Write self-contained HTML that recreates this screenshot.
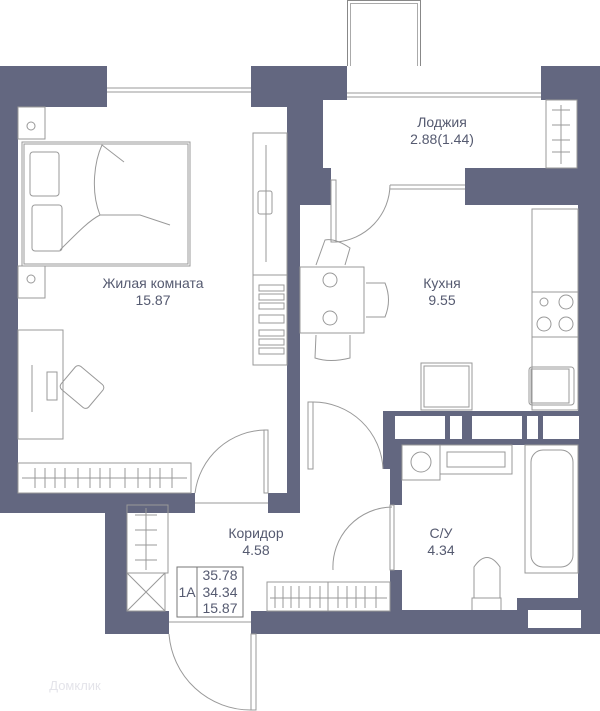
<!DOCTYPE html>
<html><head><meta charset="utf-8"><style>
html,body{margin:0;padding:0;background:#fff;}
svg{display:block;}
text{font-family:"Liberation Sans",sans-serif;font-size:14px;fill:#555a70;text-anchor:middle;}
</style></head><body>
<svg width="600" height="711" viewBox="0 0 600 711" xmlns="http://www.w3.org/2000/svg">
<polygon points="0,66 600,66 600,634 105,634 105,513 0,513" fill="#636780"/>
<rect x="347.5" y="0.5" width="73" height="66" fill="#fff" stroke="#888" stroke-width="1"/>
<rect x="350.5" y="3.5" width="67" height="63" fill="none" stroke="#aaa" stroke-width="1"/>
<rect x="107" y="66" width="144" height="41" fill="#fff"/>
<line x1="107" y1="88" x2="251" y2="88" stroke="#999"/><line x1="107" y1="92" x2="251" y2="92" stroke="#999"/>
<rect x="347" y="66" width="194" height="34" fill="#fff"/>
<line x1="347" y1="93" x2="541" y2="93" stroke="#999"/><line x1="347" y1="97" x2="541" y2="97" stroke="#999"/>
<rect x="390" y="168" width="75" height="37" fill="#fff"/>
<line x1="390" y1="185" x2="465" y2="185" stroke="#999"/><line x1="390" y1="189" x2="465" y2="189" stroke="#999"/>
<rect x="331" y="168" width="59" height="37" fill="#fff"/>
<rect x="18" y="107" width="269" height="386" fill="#fff"/>
<rect x="323" y="100" width="254" height="68" fill="#fff"/>
<rect x="300" y="205" width="278" height="206" fill="#fff"/>
<polygon points="300,411 383,411 383,469 390,469 390,611 127,611 127,513 300,513" fill="#fff"/>
<rect x="300" y="405" width="83" height="64" fill="#fff"/>
<rect x="195" y="493" width="73" height="20" fill="#fff"/>
<rect x="390" y="505" width="12" height="65" fill="#fff"/>
<polygon points="402,445 578,445 578,598 517,598 517,610 402,610" fill="#fff"/>
<rect x="169" y="611" width="82" height="23" fill="#fff"/>
<rect x="528" y="610" width="53" height="18" fill="#fff"/>
<g fill="#fff"><rect x="395" y="416" width="50" height="23"/><rect x="450" y="416" width="12" height="23"/><rect x="472" y="416" width="50" height="23"/><rect x="527" y="416" width="11" height="23"/><rect x="543" y="416" width="36" height="23"/></g>
<g fill="none" stroke="#999" stroke-width="1">
<rect x="22" y="142" width="168" height="124"/><rect x="24" y="144" width="164" height="120"/>
<rect x="30" y="152" width="29" height="44" rx="3"/><rect x="32" y="205" width="30" height="46" rx="3"/>
<path d="M60 250 C80 230 90 220 100 215 L140 215 L170 225 M100 215 C90 190 95 160 102 145 L124 162"/>
<rect x="18" y="107" width="27" height="32"/><rect x="18" y="266" width="27" height="32"/>
<circle cx="31" cy="126" r="4"/><circle cx="31" cy="279" r="4"/>
<rect x="253" y="133" width="34" height="142"/><line x1="266" y1="145" x2="266" y2="262"/>
<rect x="258" y="191" width="14" height="23" rx="2"/>
<rect x="253" y="275" width="34" height="90"/>
<g><rect x="259" y="285" width="25" height="6"/><rect x="259" y="294" width="25" height="6"/><rect x="259" y="303" width="25" height="6"/><rect x="259" y="315" width="25" height="8"/><rect x="259" y="330" width="25" height="6"/><rect x="259" y="339" width="25" height="6"/><rect x="259" y="348" width="25" height="6"/></g>
<rect x="18" y="330" width="45" height="109"/>
<line x1="32" y1="365" x2="32" y2="412"/><rect x="47" y="372" width="10" height="28"/>
<rect x="64" y="372" width="36" height="30" rx="4" transform="rotate(40 82 387)"/>
<rect x="18" y="463" width="173" height="30"/><line x1="22" y1="478" x2="187" y2="478"/>
<path d="M35 468v20M45 468v20M55 468v20M65 468v20M78 468v20M90 468v20M100 468v20M110 468v20M125 468v20M138 468v20M150 468v20M160 468v20M172 468v20"/>
<rect x="546" y="100" width="31" height="68"/><line x1="561" y1="105" x2="561" y2="164"/>
<path d="M552 110h18M552 125h18M552 140h18M552 152h18"/>
<rect x="300" y="267" width="64" height="66"/>
<circle cx="330" cy="280" r="7"/><circle cx="330" cy="318" r="7"/>
<path d="M366 283 L385 283 Q392 300 385 317 L366 317"/>
<path d="M316 265 L325 240 Q335 238 350 248 L345 265"/>
<path d="M316 335 L315 358 Q330 363 350 358 L350 335"/>
<rect x="532" y="209" width="46" height="201"/><line x1="532" y1="292" x2="578" y2="292"/><line x1="532" y1="337" x2="578" y2="337"/>
<circle cx="544" cy="302" r="4"/><circle cx="566" cy="302" r="7"/><circle cx="544" cy="324" r="7"/><circle cx="566" cy="324" r="7"/>
<rect x="421" y="363" width="51" height="47"/><rect x="424" y="366" width="45" height="41"/>
<rect x="529" y="367" width="45" height="38" rx="3"/><rect x="531" y="369" width="38" height="34"/>
<rect x="402" y="445" width="38" height="35"/><circle cx="421" cy="462" r="10"/>
<rect x="440" y="445" width="72" height="29"/><rect x="447" y="452" width="58" height="15"/>
<rect x="525" y="445" width="53" height="128"/><rect x="531" y="450" width="42" height="117" rx="12"/>
<path d="M472 610 L472 598 L501 598 L501 610 M474 598 L474 567 Q487 548 500 567 L500 598"/>
<rect x="127" y="505" width="41" height="68"/><line x1="146" y1="508" x2="146" y2="570"/>
<path d="M135 515h22M135 530h22M135 545h22M135 560h22"/>
<rect x="127" y="573" width="38" height="38"/><path d="M127 573 L165 611 M165 573 L127 611"/>
<rect x="267" y="582" width="123" height="29"/><line x1="328" y1="582" x2="328" y2="611"/><line x1="270" y1="598" x2="387" y2="598"/>
<path d="M275 586v22M283 586v22M291 586v22M299 586v22M310 586v22M320 586v22M338 586v22M347 586v22M356 586v22M365 586v22M376 586v22"/>
<rect x="264" y="430" width="4" height="63"/><path d="M195 493 A72 72 0 0 1 266 430"/>
<rect x="308" y="402" width="5" height="67"/><path d="M313 402 A70 70 0 0 1 383 469"/>
<rect x="390" y="505" width="4" height="65"/><path d="M333 570 A60 60 0 0 1 392 507"/>
<rect x="331" y="180" width="5" height="62"/><path d="M336 242 A58 58 0 0 0 390 185"/>
<rect x="251" y="634" width="5" height="76"/><path d="M169 634 A82 82 0 0 0 251 710"/>
<line x1="195" y1="503" x2="268" y2="503"/><line x1="169" y1="622" x2="251" y2="622"/>
</g>
<g fill="none" stroke="#777"><rect x="177" y="567" width="66" height="50"/><line x1="197" y1="567" x2="197" y2="617"/></g>
<text x="153" y="288">Жилая комната</text><text x="153" y="305">15.87</text>
<text x="442" y="288">Кухня</text><text x="442" y="305">9.55</text>
<text x="442" y="127">Лоджия</text><text x="442" y="144">2.88(1.44)</text>
<text x="256" y="538">Коридор</text><text x="256" y="555">4.58</text>
<text x="441" y="538">С/У</text><text x="441" y="555">4.34</text>
<text x="187" y="597">1A</text>
<text x="220" y="580">35.78</text><text x="220" y="597">34.34</text><text x="220" y="613">15.87</text>
<text x="75" y="690" style="fill:#e4e4ea;font-size:13px">Домклик</text>
</svg>
</body></html>
